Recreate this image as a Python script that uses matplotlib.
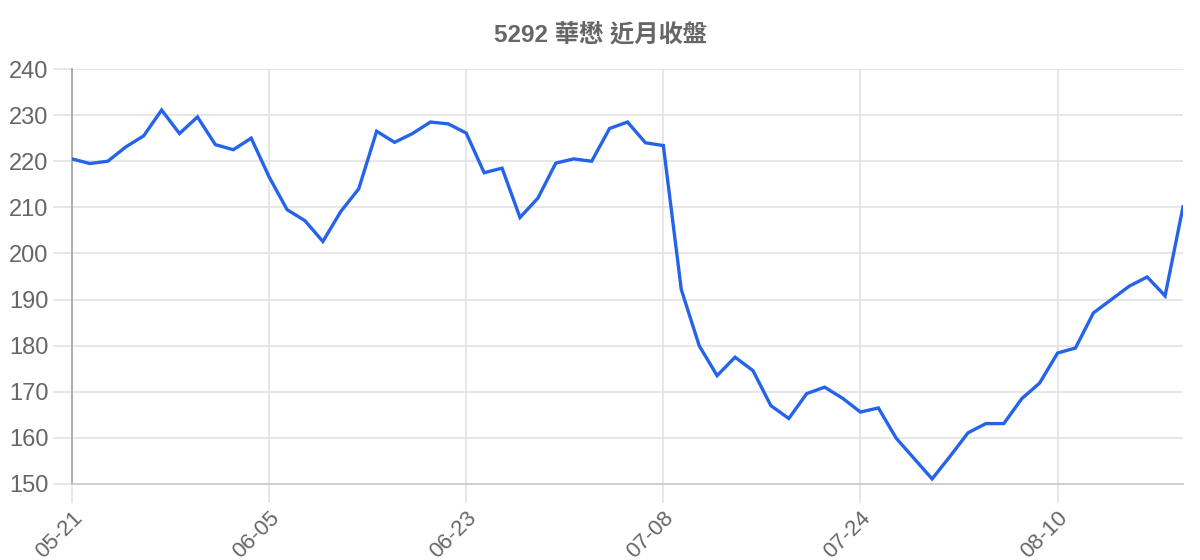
import matplotlib
matplotlib.use("Agg")
import matplotlib.pyplot as plt

plt.rcParams['font.family'] = ['Liberation Sans', 'Noto Sans CJK TC', 'DejaVu Sans']

title = "5292 華懋 近月收盤"

dates = [
    "05-21", "05-22", "05-23", "05-24", "05-27", "05-28", "05-29", "05-30", "05-31", "06-03", "06-04",
    "06-05", "06-06", "06-07", "06-11", "06-12", "06-13", "06-14", "06-17", "06-18", "06-19", "06-20",
    "06-23", "06-24", "06-25", "06-26", "06-27", "06-30", "07-01", "07-02", "07-03", "07-04", "07-07",
    "07-08", "07-09", "07-10", "07-14", "07-15", "07-16", "07-17", "07-18", "07-21", "07-22", "07-23",
    "07-24", "07-28", "07-29", "07-30", "07-31", "08-01", "08-04", "08-05", "08-06", "08-07", "08-08",
    "08-10", "08-11", "08-12", "08-13", "08-14", "08-15", "08-18", "08-19",
]

close = [
    220.5, 219.5, 220.0, 223.1, 225.5, 231.1, 226.0, 229.6, 223.6, 222.5, 225.0,
    216.6, 209.5, 207.1, 202.6, 209.1, 214.0, 226.5, 224.1, 226.0, 228.5, 228.1,
    226.1, 217.5, 218.5, 207.8, 212.0, 219.6, 220.5, 220.0, 227.1, 228.5, 224.0,
    223.4, 192.2, 180.0, 173.5, 177.5, 174.6, 167.0, 164.2, 169.6, 171.0, 168.6,
    165.6, 166.5, 159.9, 155.5, 151.1, 156.0, 161.1, 163.1, 163.1, 168.5, 171.9,
    178.4, 179.5, 187.1, 190.0, 192.9, 194.9, 190.8, 210.1,
]

tick_labels = ["05-21", "06-05", "06-23", "07-08", "07-24", "08-10"]
y_ticks = [150, 160, 170, 180, 190, 200, 210, 220, 230, 240]

W, H = 1200, 560
fig = plt.figure(figsize=(W / 100, H / 100), dpi=100)
ax = fig.add_axes([72 / W, 1 - 484 / H, (1183 - 72) / W, (484 - 69) / H])

x = list(range(len(close)))
ax.plot(x, close, color="#2563eb", linewidth=2.4, solid_joinstyle="miter", zorder=3)

ax.set_xlim(0, len(close) - 1)
ax.set_ylim(150, 240)

tick_pos = [dates.index(t) for t in tick_labels]
ax.set_xticks(tick_pos)
ax.set_xticklabels(tick_labels, rotation=45, ha="right", rotation_mode="anchor")
ax.set_yticks(y_ticks)

grid_c = "#e0e0e0"
ax.grid(True, color=grid_c, linewidth=1.1, zorder=0)
ax.tick_params(axis="both", colors=grid_c, labelcolor="#666666", length=14, width=1.1)
ax.tick_params(axis="y", labelsize=17, pad=3)
ax.tick_params(axis="x", labelsize=16, pad=3)

for s in ["top", "right"]:
    ax.spines[s].set_visible(False)
ax.spines["left"].set_color("#a8a8a8")
ax.spines["left"].set_linewidth(1.3)
ax.spines["bottom"].set_color("#cccccc")
ax.spines["bottom"].set_linewidth(1.3)
ax.set_axisbelow(True)

fig.text(0.5, 1 - 35 / H, title, ha="center", va="center", fontsize=17.5,
         fontweight="bold", color="#666666")

fig.savefig("out.png", dpi=100, facecolor="white")
